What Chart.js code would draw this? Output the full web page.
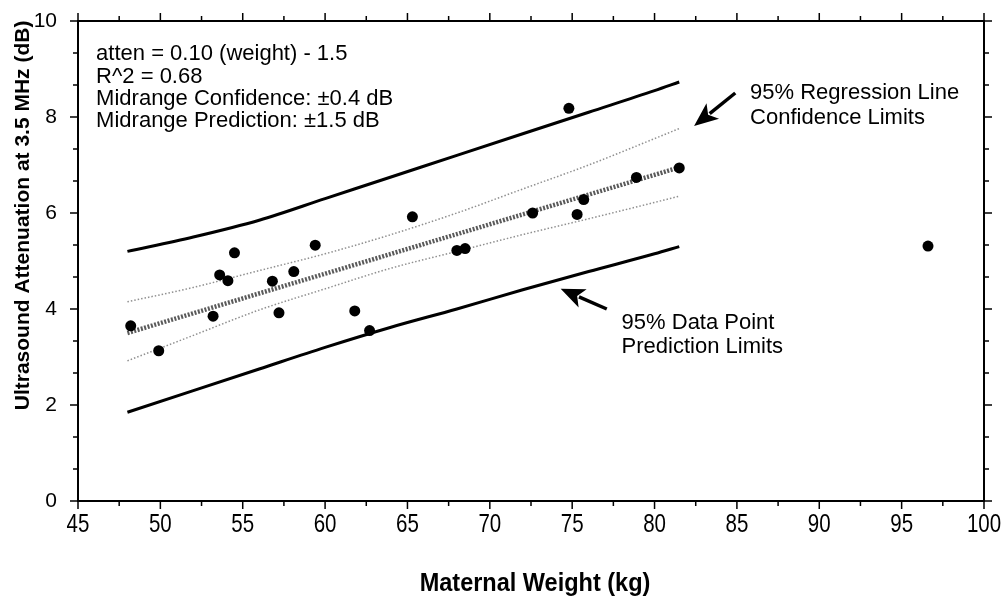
<!DOCTYPE html>
<html lang="en">
<head>
<meta charset="UTF-8">
<title>Ultrasound attenuation vs maternal weight</title>
<script src="https://cdn.jsdelivr.net/npm/chart.js"></script>
<style>
  html, body { margin: 0; padding: 0; background: #fff; }
</style>
</head>
<body>
<canvas id="chart" width="1005" height="604"></canvas>
<script>
// measured points
const weightKg = [48.2, 49.9, 53.2, 53.6, 54.1, 54.5, 56.8, 57.2, 58.1, 59.4, 61.8,
                  62.7, 65.3, 68.0, 68.5, 72.6, 74.8, 75.3, 75.7, 78.9, 81.5, 96.6];
const attenDb = [3.65, 3.13, 3.85, 4.71, 4.59, 5.17, 4.58, 3.92, 4.78, 5.33, 3.96,
                 3.55, 5.92, 5.22, 5.26, 6.00, 8.18, 5.97, 6.28, 6.74, 6.94, 5.31];

// fitted line and limit curves
const fitX = [48, 81.5];
const fitY = [3.5, 6.95];
const bandX = [48, 52, 56, 60, 64, 68, 72, 76, 80, 81.5];
const predUpper = [5.2, 5.5, 5.85, 6.3, 6.75, 7.2, 7.65, 8.1, 8.55, 8.73];
const predLower = [1.85, 2.3, 2.75, 3.2, 3.62, 4.0, 4.4, 4.78, 5.15, 5.3];
const confUpper = [4.15, 4.45, 4.8, 5.15, 5.55, 6.0, 6.5, 7.0, 7.55, 7.76];
const confLower = [2.92, 3.45, 3.98, 4.42, 4.85, 5.2, 5.55, 5.88, 6.22, 6.35];

const xTicks = [45, 50, 55, 60, 65, 70, 75, 80, 85, 90, 95, 100];
const yTicks = [0, 2, 4, 6, 8, 10];

const infoLines = ['atten = 0.10 (weight) - 1.5', 'R^2 = 0.68',
                   'Midrange Confidence: \u00b10.4 dB', 'Midrange Prediction: \u00b11.5 dB'];

const pts = (xs, ys) => xs.map((v, i) => ({ x: v, y: ys[i] }));

const SANS = 'Arial, "Liberation Sans", Helvetica, sans-serif';

function arrow(ctx, x0, y0, x1, y1) {
  const ang = Math.atan2(y1 - y0, x1 - x0);
  const hl = 24, hw = 10;
  const bx = x1 - hl * Math.cos(ang), by = y1 - hl * Math.sin(ang);
  ctx.beginPath();
  ctx.moveTo(x0, y0);
  ctx.lineTo(bx + 4 * Math.cos(ang), by + 4 * Math.sin(ang));
  ctx.lineWidth = 3.5;
  ctx.stroke();
  ctx.beginPath();
  ctx.moveTo(x1, y1);
  ctx.lineTo(bx + hw * Math.sin(ang), by - hw * Math.cos(ang));
  ctx.lineTo(bx + 6 * Math.cos(ang), by + 6 * Math.sin(ang));
  ctx.lineTo(bx - hw * Math.sin(ang), by + hw * Math.cos(ang));
  ctx.closePath();
  ctx.fill();
}

// condensed text, like the narrow face used on the x axis
function narrowText(ctx, t, px, py, sx) {
  ctx.save();
  ctx.translate(px, py);
  ctx.scale(sx, 1);
  ctx.fillText(t, 0, 0);
  ctx.restore();
}

const paperFrame = {
  id: 'paperFrame',
  afterDatasetsDraw(chart) {
    const { ctx, chartArea: a, scales: { x, y } } = chart;
    ctx.save();
    ctx.strokeStyle = '#000';
    ctx.fillStyle = '#000';

    // box
    ctx.lineWidth = 2;
    ctx.strokeRect(a.left, a.top, a.right - a.left, a.bottom - a.top);

    // tick marks, outside on all four sides
    ctx.lineWidth = 1.5;
    ctx.beginPath();
    for (let v = 45; v <= 100.01; v += 2.5) {
      const px = x.getPixelForValue(v);
      const len = Math.abs(v % 5) < 0.01 ? 8 : 5;
      ctx.moveTo(px, a.bottom); ctx.lineTo(px, a.bottom + len);
      ctx.moveTo(px, a.top); ctx.lineTo(px, a.top - len);
    }
    for (let i = 0; i <= 15; i++) {
      const py = y.getPixelForValue(i * 2 / 3);
      const len = i % 3 === 0 ? 8 : 5;
      ctx.moveTo(a.left, py); ctx.lineTo(a.left - len, py);
      ctx.moveTo(a.right, py); ctx.lineTo(a.right + len, py);
    }
    ctx.stroke();

    // x tick labels
    ctx.font = '25px ' + SANS;
    ctx.textAlign = 'center';
    ctx.textBaseline = 'top';
    xTicks.forEach(v => narrowText(ctx, String(v), x.getPixelForValue(v), a.bottom + 12, 0.82));

    // equation block
    ctx.font = '22px ' + SANS;
    ctx.textAlign = 'left';
    ctx.textBaseline = 'alphabetic';
    const infoY = [9.19, 8.71, 8.25, 7.8];
    infoLines.forEach((t, i) => ctx.fillText(t, x.getPixelForValue(46.1), y.getPixelForValue(infoY[i])));

    // callouts
    ctx.fillText('95% Regression Line', x.getPixelForValue(85.8), y.getPixelForValue(8.375));
    ctx.fillText('Confidence Limits', x.getPixelForValue(85.8), y.getPixelForValue(7.85));
    ctx.fillText('95% Data Point', x.getPixelForValue(78.0), y.getPixelForValue(3.58));
    ctx.fillText('Prediction Limits', x.getPixelForValue(78.0), y.getPixelForValue(3.08));

    arrow(ctx, x.getPixelForValue(84.9), y.getPixelForValue(8.5),
               x.getPixelForValue(82.4), y.getPixelForValue(7.81));
    arrow(ctx, x.getPixelForValue(77.1), y.getPixelForValue(4.0),
               x.getPixelForValue(74.3), y.getPixelForValue(4.42));

    // axis titles
    ctx.font = 'bold 21px ' + SANS;
    ctx.textAlign = 'center';
    ctx.textBaseline = 'middle';
    ctx.save();
    ctx.translate(23, y.getPixelForValue(5.95));
    ctx.rotate(-Math.PI / 2);
    ctx.fillText('Ultrasound Attenuation at 3.5 MHz (dB)', 0, 0);
    ctx.restore();
    ctx.font = 'bold 25px ' + SANS;
    narrowText(ctx, 'Maternal Weight (kg)', (a.left + a.right) / 2 + 4, 584, 0.94);

    ctx.restore();
  }
};

const lineSet = (data, style) => Object.assign({
  data, showLine: true, pointRadius: 0, borderColor: '#000',
  cubicInterpolationMode: 'monotone', fill: false
}, style);

new Chart(document.getElementById('chart'), {
  type: 'scatter',
  data: {
    datasets: [
      { label: 'Data', data: pts(weightKg, attenDb), pointRadius: 5.5,
        backgroundColor: '#000', borderColor: '#000', pointBorderWidth: 0 },
      lineSet(pts(fitX, fitY), { borderColor: '#5a5a5a', borderWidth: 4.5, borderDash: [2, 1.5] }),
      lineSet(pts(bandX, confUpper), { borderColor: '#909090', borderWidth: 1.5, borderDash: [1.5, 2] }),
      lineSet(pts(bandX, confLower), { borderColor: '#909090', borderWidth: 1.5, borderDash: [1.5, 2] }),
      lineSet(pts(bandX, predUpper), { borderWidth: 3 }),
      lineSet(pts(bandX, predLower), { borderWidth: 3 })
    ]
  },
  options: {
    responsive: false,
    animation: false,
    devicePixelRatio: 1,
    layout: { padding: { left: 0, right: 21, top: 21, bottom: 0 } },
    plugins: { legend: { display: false }, tooltip: { enabled: false } },
    scales: {
      x: {
        type: 'linear', min: 45, max: 100,
        afterBuildTicks: s => { s.ticks = xTicks.map(v => ({ value: v })); },
        afterFit: s => { s.height = 103; s.paddingLeft = 0; s.paddingRight = 0; },
        grid: { display: false, drawTicks: false },
        border: { display: false },
        ticks: { display: false }
      },
      y: {
        type: 'linear', min: 0, max: 10,
        afterBuildTicks: s => { s.ticks = yTicks.map(v => ({ value: v })); },
        afterFit: s => { s.width = 78; s.paddingTop = 0; s.paddingBottom = 0; },
        grid: { display: false, drawTicks: false },
        border: { display: false },
        ticks: { padding: 21, color: '#000', font: { family: SANS, size: 21 } }
      }
    }
  },
  plugins: [paperFrame]
});
</script>
</body>
</html>
